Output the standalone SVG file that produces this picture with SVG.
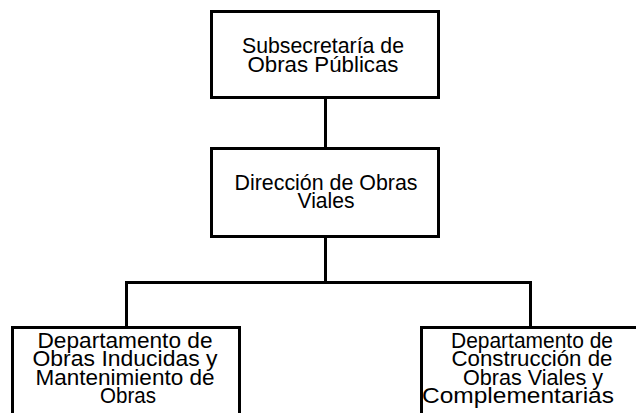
<svg xmlns="http://www.w3.org/2000/svg" width="636" height="413" viewBox="0 0 636 413">
<style>
.box{fill:#fff;stroke:#000;stroke-width:3}
.ln{fill:none;stroke:#000;stroke-width:3;stroke-linecap:square}
text{font-family:"Liberation Sans",Arial,sans-serif;font-size:21.5px;fill:#000;text-anchor:middle}
</style>
<rect width="636" height="413" fill="#fff"/>
<g id="connectors">
<path class="ln" d="M325.5 97.5V148.5"/>
<path class="ln" d="M325.5 236.5V282.5"/>
<path class="ln" d="M126.5 327.5V282.5H530.5V327.5"/>
</g>
<g id="n1">
<rect class="box" x="211.5" y="11.5" width="227" height="86"/>
<text x="323" y="53" textLength="162" lengthAdjust="spacingAndGlyphs">Subsecretaría de</text>
<text x="323" y="71.5" textLength="151" lengthAdjust="spacingAndGlyphs">Obras Públicas</text>
</g>
<g id="n2">
<rect class="box" x="211.5" y="148.5" width="227" height="88"/>
<text x="326" y="189.5" textLength="183" lengthAdjust="spacingAndGlyphs">Dirección de Obras</text>
<text x="326" y="208" textLength="57" lengthAdjust="spacingAndGlyphs">Viales</text>
</g>
<g id="n3">
<rect class="box" x="12.5" y="327.5" width="227" height="100"/>
<text x="125" y="347.5" textLength="175" lengthAdjust="spacingAndGlyphs">Departamento de</text>
<text x="125" y="366" textLength="185" lengthAdjust="spacingAndGlyphs">Obras Inducidas y</text>
<text x="125" y="384.5" textLength="179" lengthAdjust="spacingAndGlyphs">Mantenimiento de</text>
<text x="128" y="403" textLength="56" lengthAdjust="spacingAndGlyphs">Obras</text>
</g>
<g id="n4">
<rect class="box" x="421.5" y="327.5" width="220" height="100"/>
<text x="532" y="347.5" textLength="162" lengthAdjust="spacingAndGlyphs">Departamento de</text>
<text x="532" y="366" textLength="161" lengthAdjust="spacingAndGlyphs">Construcción de</text>
<text x="533" y="384.5" textLength="140" lengthAdjust="spacingAndGlyphs">Obras Viales y</text>
<text x="518" y="403" textLength="192" lengthAdjust="spacingAndGlyphs">Complementarias</text>
</g>
</svg>
